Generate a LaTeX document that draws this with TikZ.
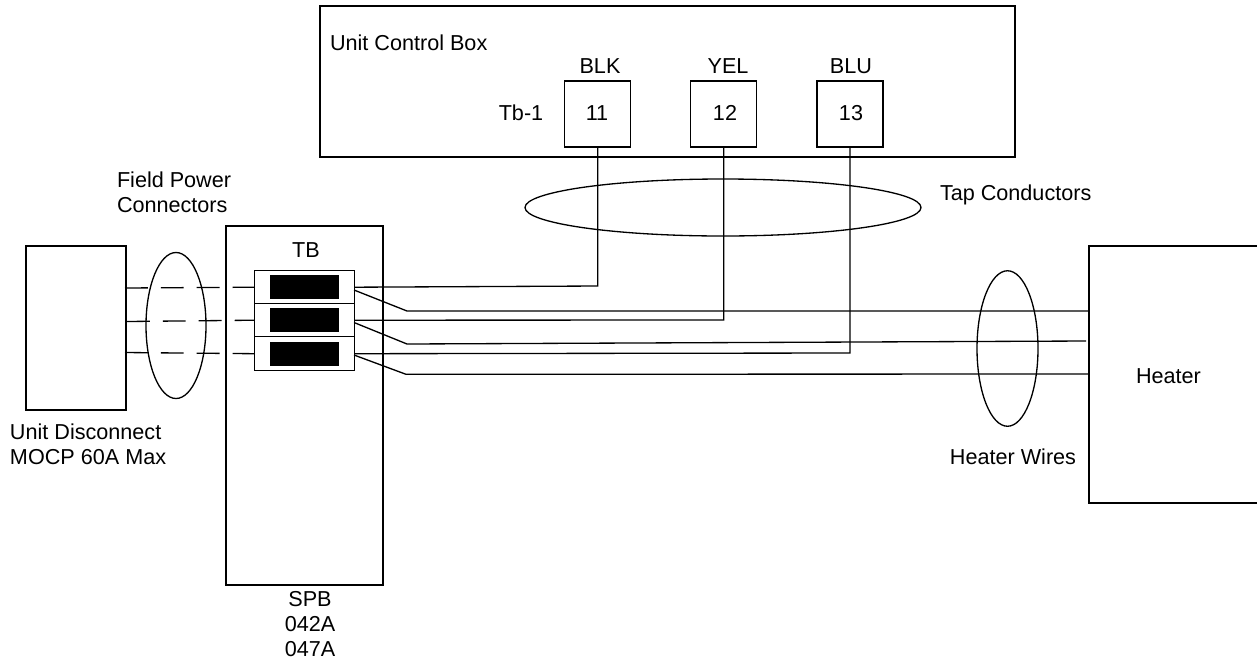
\documentclass[tikz,border=0pt]{standalone}
\usepackage{fontspec}
\setmainfont{Liberation Sans}
\usetikzlibrary{calc}
\usetikzlibrary{math}
\usetikzlibrary{shapes.geometric}
\tikzset{
    box/.style 2 args={draw, minimum width=#1*0.02cm, minimum height=#2*0.02cm, inner sep=0, outer sep=0},
    ring/.style 2 args={draw, ellipse, minimum width=#1*0.02cm, minimum height=#2*0.02cm, inner sep=0, outer sep=0},
    lbl/.style={inner sep=0, outer sep=0, font=\fontsize{12.3}{14.2}\selectfont},
    wire/.style={line width=0.75pt},
    broken/.style={wire, dash pattern=on 13pt off 7.4pt},
}
\begin{document}
\begin{tikzpicture}[x=0.02cm, y=-0.02cm, line width=0.75pt] % pixel units of the sheet
	\useasboundingbox (0,0) rectangle (1257,660);
	\tikzmath{\t = 66;}
	% control box and its terminals
	\node[box={695}{151}] (ctrl) at (667.5,81.5) {};
	\node[lbl, anchor=base west] (ctrlname) at (330,50.5) {Unit Control Box};
	\node[lbl, anchor=base] (tbone) at (521,120.5) {Tb-1};
	\foreach \i/\x/\nx/\n/\c/\cx in {1/597.7/597/11/BLK/600, 2/723.7/725/12/YEL/728, 3/850/851/13/BLU/851} {
		\node[box={\t}{\t}] (term\i) at (\x,114) {};
		\node[lbl, anchor=base] (num\i) at (\nx,120.5) {\n};
		\node[lbl, anchor=base] (col\i) at (\cx,73) {\c};
	}
	% power block
	\node[box={100}{164}] (disc) at (76,328) {};
	\node[box={157}{359}] (spb) at (304.5,405.5) {};
	\node[lbl, anchor=base] (tbname) at (306,257.5) {TB};
	\foreach \i/\y/\s in {1/287.2/33,2/320.2/33,3/353.7/34} {
		\node[box={99.5}{\s}] (tb\i) at (304.5,\y) {};
		\node[box={67}{22.5}, fill=black] (slot\i) at (304.5,\y) {};
	}
	% heater, right side is off the sheet
	\coordinate (hta) at (1257,246);
	\coordinate (htb) at (1089,246);
	\coordinate (htc) at (1089,503);
	\coordinate (htd) at (1257,503);
	\draw (hta) -- (htb) -- (htc) -- (htd);
	\node[lbl, anchor=base] (heater) at (1168.5,383.5) {Heater};
	% rings round the wires
	\node[ring={60}{146}] (fieldring) at (176,325.5) {};
	\node[ring={396}{57}] (tapring) at (723,207.5) {};
	\node[ring={61}{155.5}] (heatring) at (1007.5,348.5) {};
	% dashed field wires
	\coordinate (in1) at (125,288);
	\coordinate (in2) at (127,321.5);
	\coordinate (in3) at (125,352.5);
	\foreach \i in {1,2,3}
	\draw[broken] (in\i) -- (tb\i.west);
	% tap wires
	\coordinate (up1) at (597.7,286);
	\coordinate (up2) at (723.7,320);
	\coordinate (up3) at (850,353);
	\foreach \i in {1,2,3}
	\draw[wire] (tb\i.east) -- (up\i) -- (term\i.south);
	% heater wires
	\coordinate (out1) at (354,290);
	\coordinate (out2) at (354,322.5);
	\coordinate (out3) at (354,355);
	\coordinate (bend1) at (407,311);
	\coordinate (bend2) at (407,344);
	\coordinate (bend3) at (406,374.3);
	\coordinate (end1) at (1089,311);
	\coordinate (end2) at (1086,341);
	\coordinate (end3) at (1089,374);
	\foreach \i in {1,2,3}
	\draw[wire] (out\i) -- (bend\i) -- (end\i);
	% texts
	\node[lbl, anchor=base west] (taplabel) at (940,200.5) {Tap Conductors};
	\node[lbl, anchor=west, align=left] (fieldlabel) at (117,192) {Field Power\\Connectors};
	\node[lbl, anchor=west, align=left] (disclabel) at (10,444) {Unit Disconnect\\MOCP 60A Max};
	\node[lbl, anchor=base] (heatlabel) at (1013,464) {Heater Wires};
	\node[lbl, anchor=center, align=center] (spblabel) at (310,624) {SPB\\042A\\047A};
\end{tikzpicture}
\end{document}
